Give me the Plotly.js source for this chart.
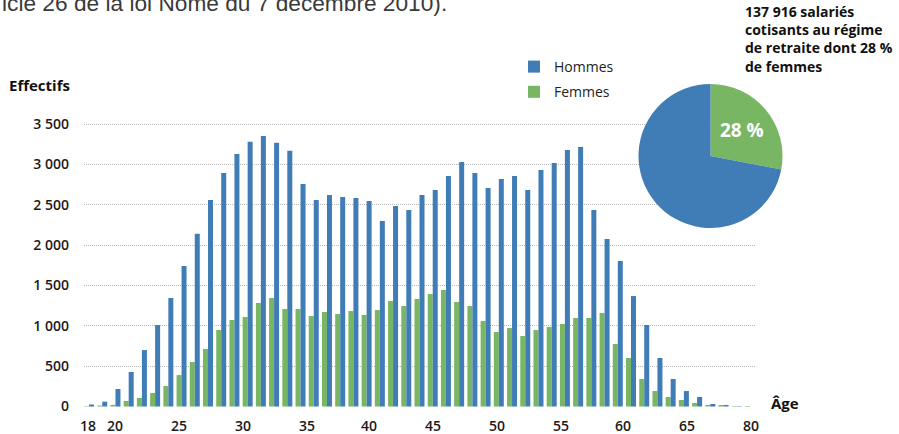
<!DOCTYPE html>
<html><head><meta charset="utf-8">
<script src="https://cdn.plot.ly/plotly-3.0.1.min.js"></script>
<style>html,body{margin:0;padding:0;background:#fff}#chart{width:899px;height:434px}</style>
</head><body><div id="chart"></div>
<script>
// ---- data ----
const ages = [18,19,20,21,22,23,24,25,26,27,28,29,30,31,32,33,34,35,36,37,38,39,40,41,42,43,44,45,46,47,48,49,50,51,52,53,54,55,56,57,58,59,60,61,62,63,64,65,66,67,68];
const hommes = [25,60,217,428,700,1011,1346,1743,2143,2561,2896,3132,3284,3355,3272,3173,2760,2561,2623,2598,2585,2548,2300,2486,2437,2623,2685,2859,3033,2896,2710,2822,2859,2685,2933,3020,3181,3218,2437,2077,1804,1370,1011,602,341,192,118,31,19,5,0];
const femmes = [5,12,20,68,106,168,254,390,552,713,949,1073,1110,1284,1346,1209,1209,1122,1172,1147,1184,1135,1197,1308,1246,1333,1395,1445,1296,1246,1060,924,973,874,949,986,1023,1098,1098,1160,775,602,341,192,118,81,43,19,19,6,6];
const tickLabels = ['18','20','25','30','35','40','45','50','55','60','65','80'];
const yTickValues = [0,500,1000,1500,2000,2500,3000,3500];
const pieLabels = ['Femmes','Hommes'];
const pieValues = [28,72];
const pieText = ['28 %',''];
const noteLines = ['137 916 salariés','cotisants au régime','de retraite dont 28 %','de femmes'];
const topNote = 'icle 26 de la loi Nome du 7 décembre 2010).';

// ---- layout helpers (positions / styles) ----
const tickPositions = [17.92,19.97,24.81,29.65,34.49,39.18,44.02,48.86,53.70,58.39,63.23,68.08];
const W=899,H=434,ML=84,MR=10,MT=40,MB=27;
const PW=W-ML-MR, PH=H-MT-MB;
const px = x => (x-ML)/PW;
const py = y => (H-MB-y)/PH;
const BLUE='#407db6', GREEN='#79b664';
const FONT='Open Sans, Noto Sans, sans-serif';

const traces = [
  {type:'bar', name:'Femmes', legendgroup:'f', legendrank:2, x:ages, y:femmes, marker:{color:GREEN, line:{width:0}}, hoverinfo:'x+y'},
  {type:'bar', name:'Hommes', legendgroup:'h', legendrank:1, x:ages, y:hommes, marker:{color:BLUE, line:{width:0}}, hoverinfo:'x+y'},
  {type:'pie', labels:pieLabels, values:pieValues, text:pieText, textinfo:'text',
   sort:false, direction:'clockwise', rotation:0, showlegend:false,
   marker:{colors:[GREEN,BLUE], line:{width:0}},
   textposition:'inside', insidetextorientation:'horizontal',
   textfont:{family:FONT, size:19, color:'#ffffff', weight:700},
   domain:{x:[px(638),px(783)], y:[py(228),py(84)]}}
];

const annotations = [
  {xref:'paper', yref:'paper', x:px(0), y:py(18), xanchor:'left', yanchor:'bottom', showarrow:false,
   text:topNote, font:{family:'Liberation Sans, Arial, sans-serif', size:22.7, color:'#3a3a3a'}},
  {xref:'paper', yref:'paper', x:px(7), y:py(85), xanchor:'left', yanchor:'middle', showarrow:false,
   text:'<b>Effectifs</b>', font:{family:FONT, size:15, color:'#111'}},
  {xref:'paper', yref:'paper', x:px(769), y:py(403), xanchor:'left', yanchor:'middle', showarrow:false,
   text:'<b>Âge</b>', font:{family:FONT, size:15, color:'#111'}},
  {xref:'paper', yref:'paper', x:px(743), y:py(39), xanchor:'left', yanchor:'middle', align:'left', showarrow:false,
   text:noteLines.map(t=>'<b>'+t+'</b>').join('<br>'), font:{family:FONT, size:14, color:'#111'}}
];

const layout = {
  width:W, height:H, margin:{l:ML,r:MR,t:MT,b:MB,pad:0},
  paper_bgcolor:'#fff', plot_bgcolor:'rgba(0,0,0,0)',
  font:{family:FONT, size:14, color:'#1a1a1a'},
  separators:', ',
  barmode:'group', bargap:0.244, bargroupgap:0,
  showlegend:true,
  legend:{x:px(514), y:py(51), xanchor:'left', yanchor:'top', traceorder:'grouped', tracegroupgap:4,
          font:{family:FONT, size:14, color:'#222'}, bgcolor:'rgba(0,0,0,0)'},
  xaxis:{domain:[0,px(755)], range:[17.62,68.38], tickmode:'array', tickvals:tickPositions, ticktext:tickLabels,
         showgrid:false, zeroline:false, showline:false, ticks:'', automargin:false,
         tickfont:{family:FONT, size:14, color:'#1a1a1a', weight:600}, ticklabelstandoff:9},
  yaxis:{domain:[0,1], range:[-6,4545], tickmode:'array', tickvals:yTickValues, separatethousands:true,
         showgrid:true, gridcolor:'#b8b8b8', griddash:'1px,1px', gridwidth:1, zeroline:false, showline:false,
         ticks:'', automargin:false, ticklabelstandoff:14,
         tickfont:{family:FONT, size:14, color:'#1a1a1a', weight:600}},
  annotations:annotations
};
Plotly.newPlot('chart', traces, layout, {displayModeBar:false, staticPlot:true});
</script></body></html>
